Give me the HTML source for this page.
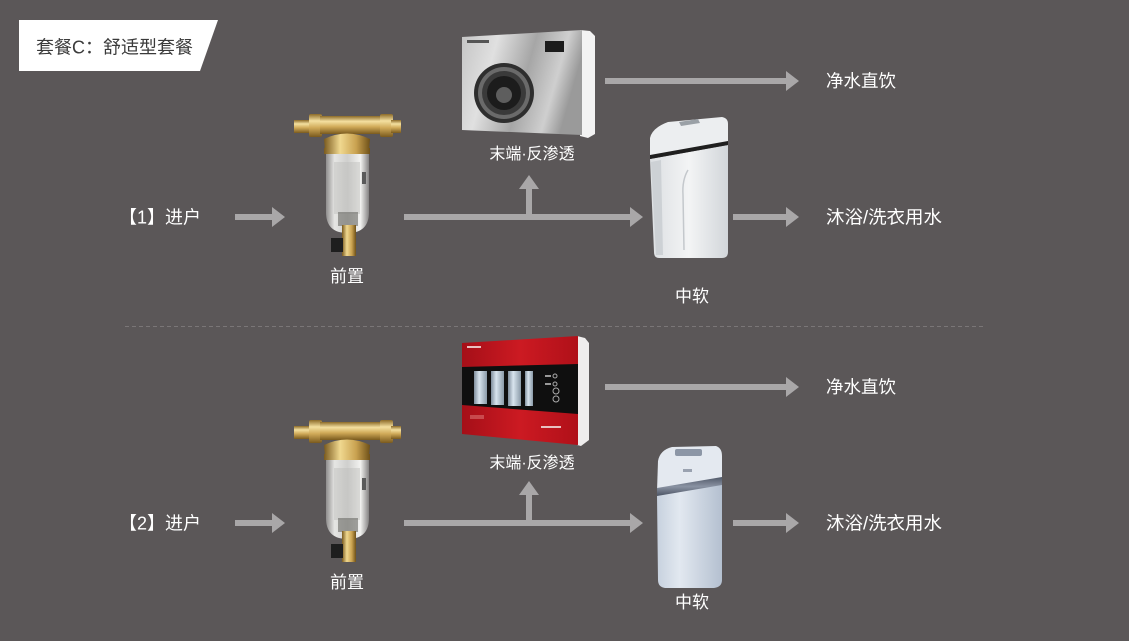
<!DOCTYPE html>
<html><head><meta charset="utf-8"><style>
html,body{margin:0;padding:0;background:#5b5758;}
svg{display:block}
text{font-family:"Liberation Sans","Noto Sans CJK SC",sans-serif;}
</style></head><body>
<svg width="1129" height="641" viewBox="0 0 1129 641" xmlns="http://www.w3.org/2000/svg" xmlns:xlink="http://www.w3.org/1999/xlink">
<defs>
 <linearGradient id="brassV" x1="0" y1="0" x2="0" y2="1">
  <stop offset="0" stop-color="#8c6a28"/>
  <stop offset="0.3" stop-color="#f4e0a0"/>
  <stop offset="0.6" stop-color="#d0aa58"/>
  <stop offset="1" stop-color="#7a5a1e"/>
 </linearGradient>
 <linearGradient id="brassH" x1="0" y1="0" x2="1" y2="0">
  <stop offset="0" stop-color="#7a5a1e"/>
  <stop offset="0.35" stop-color="#f0d890"/>
  <stop offset="0.7" stop-color="#c9a250"/>
  <stop offset="1" stop-color="#6e5018"/>
 </linearGradient>
 <linearGradient id="bowl" x1="0" y1="0" x2="1" y2="0">
  <stop offset="0" stop-color="#8f8d8d"/>
  <stop offset="0.2" stop-color="#e6e6e4"/>
  <stop offset="0.5" stop-color="#cfcfcd"/>
  <stop offset="0.8" stop-color="#f2f2f0"/>
  <stop offset="1" stop-color="#848282"/>
 </linearGradient>
 <linearGradient id="silver" x1="0" y1="0" x2="1" y2="0.25">
  <stop offset="0" stop-color="#c4c4c4"/>
  <stop offset="0.3" stop-color="#e0e0e0"/>
  <stop offset="0.6" stop-color="#a6a6a6"/>
  <stop offset="0.85" stop-color="#cfcfcf"/>
  <stop offset="1" stop-color="#9a9a9a"/>
 </linearGradient>
 <linearGradient id="redg" x1="0" y1="0" x2="1" y2="0">
  <stop offset="0" stop-color="#a50f18"/>
  <stop offset="0.5" stop-color="#cc1a22"/>
  <stop offset="1" stop-color="#b01019"/>
 </linearGradient>
 <linearGradient id="cart" x1="0" y1="0" x2="1" y2="0">
  <stop offset="0" stop-color="#7f8e9c"/>
  <stop offset="0.4" stop-color="#d8e4ee"/>
  <stop offset="1" stop-color="#8a9aa8"/>
 </linearGradient>
 <linearGradient id="whiteBody" x1="0" y1="0" x2="1" y2="0">
  <stop offset="0" stop-color="#dcdfe2"/>
  <stop offset="0.5" stop-color="#f3f4f5"/>
  <stop offset="1" stop-color="#d2d6da"/>
 </linearGradient>
 <linearGradient id="blueBody" x1="0" y1="0" x2="1" y2="0">
  <stop offset="0" stop-color="#c7d1de"/>
  <stop offset="0.35" stop-color="#e2e8f0"/>
  <stop offset="1" stop-color="#b4c0d0"/>
 </linearGradient>
 <linearGradient id="bandg" x1="0" y1="0" x2="0" y2="1">
  <stop offset="0" stop-color="#505868"/>
  <stop offset="0.5" stop-color="#8a93a3"/>
  <stop offset="1" stop-color="#4c5464"/>
 </linearGradient>
</defs>

<!-- title badge -->
<polygon points="19,20 218,20 200,71 19,71" fill="#ffffff"/>
<text x="36" y="53.5" font-size="18" fill="#3a3a3a">套餐C：舒适型套餐</text>

<!-- dashed separator -->
<line x1="125" y1="326.5" x2="986" y2="326.5" stroke="#7a7677" stroke-width="1" stroke-dasharray="4 3"/>

<!-- ====== pre-filter (row 1) ====== -->
<g id="pf">
 <rect x="294" y="120" width="18" height="13" fill="url(#brassV)"/>
 <rect x="309" y="114" width="13" height="23" rx="2" fill="url(#brassV)"/>
 <rect x="320" y="116" width="62" height="18" fill="url(#brassV)"/>
 <rect x="380" y="114" width="13" height="23" rx="2" fill="url(#brassV)"/>
 <rect x="391" y="120" width="10" height="13" fill="url(#brassV)"/>
 <path d="M325,150 L324,139 Q347,128 370,139 L369,150 Z" fill="url(#brassH)"/>
 <rect x="324" y="148" width="46" height="6" fill="url(#brassH)"/>
 <path d="M326,154 H369 V212 Q369,233 347.5,233 Q326,233 326,212 Z" fill="url(#bowl)"/>
 <rect x="334" y="162" width="26" height="52" fill="#bdbdbb" opacity="0.45"/>
 <rect x="362" y="172" width="4" height="12" fill="#5a5a5a"/>
 <rect x="338" y="212" width="20" height="14" fill="#6a6a66" opacity="0.6"/>
 <rect x="342" y="225" width="14" height="31" fill="url(#brassH)"/>
 <rect x="331" y="238" width="12" height="14" fill="#1e1e1e"/>
</g>
<use xlink:href="#pf" href="#pf" transform="translate(0,306)"/>

<!-- ====== silver RO (row 1) ====== -->
<polygon points="580,30 590,31 595,36 595,134 588,138 580,136" fill="#f3f3f3"/>
<polygon points="462,37 582,30 582,135 462,130" fill="url(#silver)"/>
<circle cx="504" cy="93" r="30" fill="#2e2e2e"/>
<circle cx="504" cy="93" r="26" fill="#6a6a6a"/>
<circle cx="504" cy="93" r="22" fill="#3a3a3a"/>
<circle cx="504" cy="93" r="17" fill="#1c1c1c"/>
<circle cx="504" cy="95" r="8" fill="#5e5e5e"/>
<rect x="545" y="41" width="19" height="11" fill="#1c1c1c"/>
<rect x="467" y="40" width="22" height="3" fill="#555"/>

<!-- ====== red RO (row 2) ====== -->
<polygon points="577,336 585,338 589,343 589,440 581,446 577,445" fill="#efeded"/>
<polygon points="462,343 578,336 578,445 462,434" fill="url(#redg)"/>
<polygon points="462,367 578,364 578,414 462,405" fill="#0f0f0f"/>
<rect x="474" y="371" width="13" height="33" fill="url(#cart)"/>
<rect x="491" y="371" width="13" height="34" fill="url(#cart)"/>
<rect x="508" y="371" width="13" height="35" fill="url(#cart)"/>
<rect x="525" y="371" width="8" height="35" fill="url(#cart)"/>
<circle cx="555" cy="376" r="2" fill="none" stroke="#aaa" stroke-width="1"/>
<circle cx="555" cy="384" r="2" fill="none" stroke="#aaa" stroke-width="1"/>
<circle cx="556" cy="391" r="3" fill="none" stroke="#aaa" stroke-width="1"/>
<circle cx="556" cy="399" r="3" fill="none" stroke="#aaa" stroke-width="1"/>
<rect x="545" y="375" width="6" height="2" fill="#999"/>
<rect x="545" y="383" width="6" height="2" fill="#999"/>
<rect x="541" y="426" width="20" height="2" fill="#e8c0c0"/>
<rect x="467" y="346" width="14" height="2" fill="#e8c0c0"/>
<rect x="470" y="415" width="14" height="4" fill="#d87070" opacity="0.6"/>

<!-- ====== white softener (row 1) ====== -->
<path d="M650,159 L728,145 L728,252 Q728,258 722,258 L659,258 Q654,258 654,252 Z" fill="url(#whiteBody)"/>
<path d="M651,162 L661,160 L663,255 L656,255 Z" fill="#cdd1d5"/>
<path d="M688,170 Q682,180 683,195 L684,250" fill="none" stroke="#c4c8cc" stroke-width="1.5"/>
<path d="M650,157 L650,138 Q652,128 668,122 L722,117 Q728,118 728,124 L728,143 Z" fill="#eceef0"/>
<path d="M650,155 L728,141 L728,145 L650,159 Z" fill="#1f1f1f"/>
<polygon points="679,122 698,119 700,123 681,126" fill="#9aa0a6"/>

<!-- ====== blue softener (row 2) ====== -->
<path d="M657,495 L722,484 L722,580 Q722,587 714,588 L665,588 Q658,587 658,580 Z" fill="url(#blueBody)"/>
<path d="M658,461 Q660,450 672,447 L716,446 Q722,448 722,456 L722,480 L657,491 Z" fill="#e4e9f0"/>
<path d="M657,488 L722,477 L722,485 L657,496 Z" fill="url(#bandg)"/>
<rect x="675" y="449" width="27" height="7" rx="2" fill="#8c96a6"/>
<rect x="683" y="469" width="9" height="3" fill="#9aa2b0"/>

<!-- ====== arrows ====== -->
<g fill="#a9a7a8">
 <!-- row 1 -->
 <rect x="235" y="214" width="38" height="6"/><polygon points="272,207 285,217 272,227"/>
 <rect x="404" y="214" width="227" height="6"/><polygon points="630,207 643,217 630,227"/>
 <rect x="526" y="188" width="6" height="28"/><polygon points="519,189 529,175 539,189"/>
 <rect x="605" y="78" width="182" height="6"/><polygon points="786,71 799,81 786,91"/>
 <rect x="733" y="214" width="54" height="6"/><polygon points="786,207 799,217 786,227"/>
 <!-- row 2 -->
 <rect x="235" y="520" width="38" height="6"/><polygon points="272,513 285,523 272,533"/>
 <rect x="404" y="520" width="227" height="6"/><polygon points="630,513 643,523 630,533"/>
 <rect x="526" y="494" width="6" height="28"/><polygon points="519,495 529,481 539,495"/>
 <rect x="605" y="384" width="182" height="6"/><polygon points="786,377 799,387 786,397"/>
 <rect x="733" y="520" width="54" height="6"/><polygon points="786,513 799,523 786,533"/>
</g>

<!-- ====== labels ====== -->
<g fill="#ffffff" font-size="17">
 <text x="119" y="223.5" font-size="18">【1】进户</text>
 <text x="119" y="529.5" font-size="18">【2】进户</text>
 <text x="347" y="282" text-anchor="middle">前置</text>
 <text x="347" y="588" text-anchor="middle">前置</text>
 <text x="532" y="159" text-anchor="middle" font-size="16">末端·反渗透</text>
 <text x="532" y="468" text-anchor="middle" font-size="16">末端·反渗透</text>
 <text x="692" y="302" text-anchor="middle">中软</text>
 <text x="692" y="608" text-anchor="middle">中软</text>
 <text x="826" y="87" font-size="17.5">净水直饮</text>
 <text x="826" y="393" font-size="17.5">净水直饮</text>
 <text x="826" y="223.5" font-size="18" textLength="116" lengthAdjust="spacingAndGlyphs">沐浴/洗衣用水</text>
 <text x="826" y="529.5" font-size="18" textLength="116" lengthAdjust="spacingAndGlyphs">沐浴/洗衣用水</text>
</g>
</svg>
</body></html>
